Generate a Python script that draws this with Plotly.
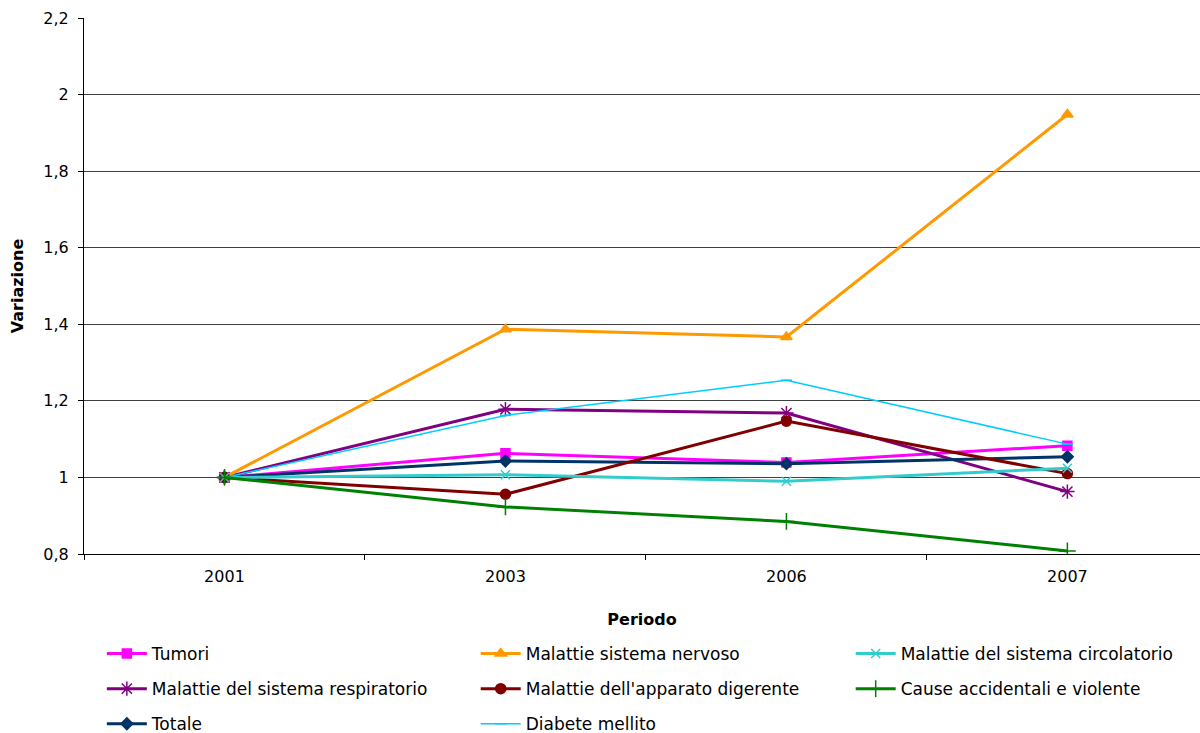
import plotly.graph_objects as go

periodi = ["2001", "2003", "2006", "2007"]

tumori = [1.0, 1.063, 1.039, 1.083]
sistema_nervoso = [1.0, 1.387, 1.367, 1.948]
circolatorio = [1.0, 1.007, 0.990, 1.024]
respiratorio = [1.0, 1.178, 1.168, 0.963]
digerente = [1.0, 0.956, 1.147, 1.010]
accidentali = [1.0, 0.923, 0.885, 0.808]
totale = [1.0, 1.043, 1.036, 1.054]
diabete = [1.0, 1.162, 1.254, 1.087]

serie = [
    # name, values, color, symbol, marker size, line width, legend
    ("Tumori", tumori, "#FF00FF", "square", 9, 3, "legend"),
    ("Malattie del sistema respiratorio", respiratorio, "#800080", "asterisk-open", 12, 3, "legend"),
    ("Totale", totale, "#003366", "diamond", 9, 3, "legend"),
    ("Malattie sistema nervoso", sistema_nervoso, "#FF9900", "triangle-up", 10, 3, "legend2"),
    ("Malattie dell'apparato digerente", digerente, "#800000", "circle", 10, 3, "legend2"),
    ("Diabete mellito", diabete, "#00CCFF", "line-ew-open", 8, 1.5, "legend2"),
    ("Malattie del sistema circolatorio", circolatorio, "#33CCCC", "x-thin-open", 9, 3, "legend3"),
    ("Cause accidentali e violente", accidentali, "#008000", "cross-thin-open", 12, 3, "legend3"),
]

fig = go.Figure()
for nome, valori, colore, simbolo, dim, spessore, leg in serie:
    fig.add_trace(go.Scatter(
        x=periodi, y=valori, name=nome, mode="lines+markers",
        line=dict(color=colore, width=spessore),
        marker=dict(symbol=simbolo, size=dim, color=colore,
                    line=dict(color=colore, width=1.5)),
        legend=leg, legendgroup=nome,
    ))

famiglia = "DejaVu Sans, Verdana, sans-serif"
font_tick = dict(family=famiglia, size=16, color="#000000")
font_leg = dict(family=famiglia, size=17, color="#000000")

leg_style = dict(orientation="v", xanchor="left", yanchor="top",
                 yref="container", y=0.1323,
                 font=font_leg, tracegroupgap=10, bgcolor="rgba(0,0,0,0)",
                 itemwidth=40)

fig.update_layout(
    width=1200, height=733,
    margin=dict(l=84, r=0, t=18, b=179, autoexpand=False),
    paper_bgcolor="white", plot_bgcolor="white",
    font=font_tick,
    separators=",.",
    legend=dict(leg_style, x=0.016),
    legend2=dict(leg_style, x=0.351),
    legend3=dict(leg_style, x=0.687),
    xaxis=dict(
        type="category", range=[-0.5, 3.472],
        showgrid=False, showline=True, linecolor="#000000", linewidth=1,
        ticks="outside", tickson="boundaries", ticklen=5, tickcolor="#000000",
        ticklabelstandoff=8,
        title=dict(text="<b>Periodo</b>", font=font_tick, standoff=28),
        tickfont=font_tick,
    ),
    yaxis=dict(
        range=[0.8, 2.2], dtick=0.2, tick0=0.8,
        showgrid=True, gridcolor="#404040", gridwidth=1,
        showline=True, linecolor="#000000", linewidth=1,
        ticks="outside", ticklen=5, tickcolor="#000000",
        ticklabelstandoff=6,
        zeroline=False,
        title=dict(text="<b>Variazione</b>", font=font_tick, standoff=15),
        tickfont=font_tick,
    ),
)

fig.write_html("out.html")
